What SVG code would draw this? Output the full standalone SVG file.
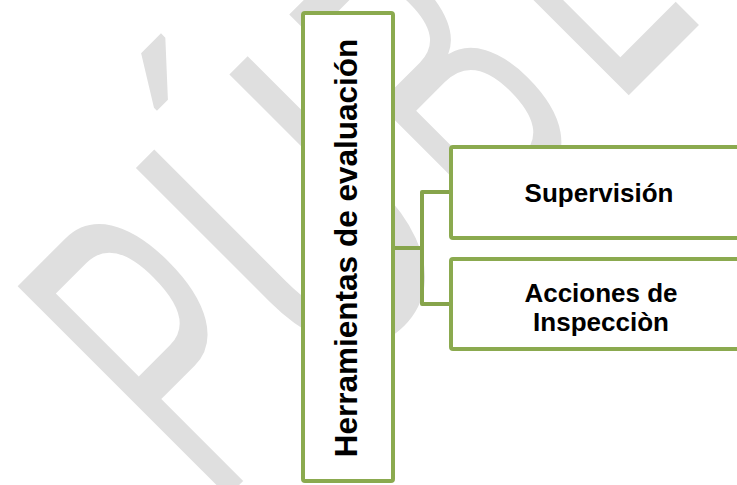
<svg xmlns="http://www.w3.org/2000/svg" width="737" height="485" viewBox="0 0 737 485">
  <style>
    .box { fill: #ffffff; stroke: #8BAA4F; stroke-width: 4; }
    .conn { fill: none; stroke: #86A44B; stroke-width: 4; stroke-linejoin: round; }
    .lbl { font-family: "Liberation Sans", Arial, sans-serif; font-weight: bold; fill: #000000; }
    .wm { font-family: "Liberation Sans", Arial, sans-serif; font-size: 265px; fill: #dfdfdf; }
  </style>
  <rect x="0" y="0" width="737" height="485" fill="#ffffff"/>
  <g id="watermark" transform="rotate(-45)">
    <text class="wm" transform="translate(0,512) scale(0.88,1.63)" x="-237.5" y="0">P</text>
    <text class="wm" transform="translate(0,512) scale(1.05,1.63)" x="-42" y="0">Ú</text>
    <text class="wm" transform="translate(0,512) scale(0.88,1.63)" x="199" y="0">B</text>
    <text class="wm" transform="translate(0,512) scale(0.85,1.63)" x="422" y="0">L</text>
  </g>
  <g id="connectors">
    <path class="conn" d="M393,248 H422"/>
    <path class="conn" d="M451,192 H422 V304 H451"/>
  </g>
  <g id="node-herramientas">
    <rect class="box" x="303" y="13" width="90" height="468" rx="2"/>
    <text class="lbl" font-size="31.5" text-anchor="middle" transform="translate(357,248) rotate(-90)" x="0" y="0">Herramientas de evaluación</text>
  </g>
  <g id="node-supervision">
    <rect class="box" x="451" y="147" width="310" height="91" rx="2"/>
    <text class="lbl" font-size="26" text-anchor="middle" x="599" y="202">Supervisión</text>
  </g>
  <g id="node-acciones">
    <rect class="box" x="451" y="259" width="310" height="90" rx="2"/>
    <text class="lbl" font-size="26" text-anchor="middle" x="601" y="302">Acciones de</text>
    <text class="lbl" font-size="26" text-anchor="middle" x="601" y="331">Inspecciòn</text>
  </g>
</svg>
